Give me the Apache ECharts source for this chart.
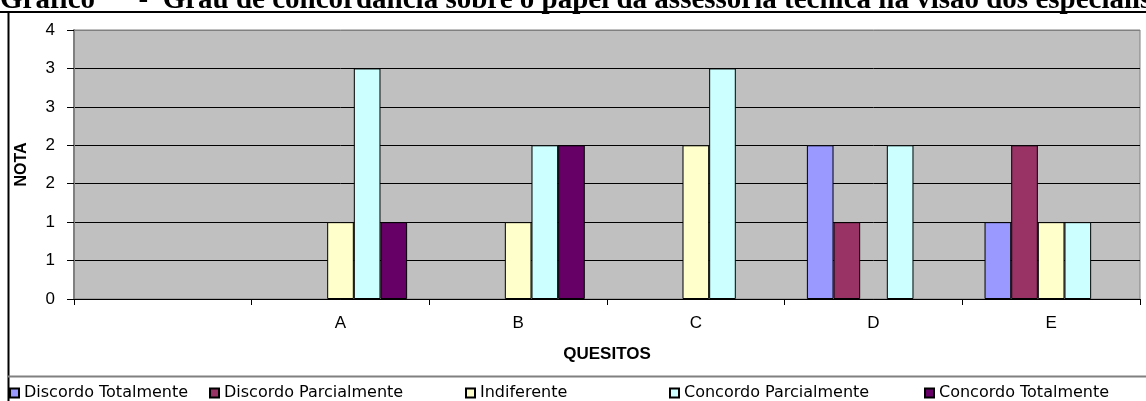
<!DOCTYPE html>
<html>
<head>
<meta charset="utf-8">
<script src="https://cdn.jsdelivr.net/npm/echarts@6/dist/echarts.min.js"></script>
<style>
html,body{margin:0;padding:0;background:#fff;}
#c{width:1146px;height:401px;}
</style>
</head>
<body>
<div id="c"></div>
<script>
const categories = ['', 'A', 'B', 'C', 'D', 'E'];
const seriesNames = ['Discordo Totalmente', 'Discordo Parcialmente', 'Indiferente', 'Concordo Parcialmente', 'Concordo Totalmente'];
const discordoTotalmente    = ['-', '-', '-', '-', 2, 1];
const discordoParcialmente  = ['-', '-', '-', '-', 1, 2];
const indiferente           = ['-', 1, 1, 2, '-', 1];
const concordoParcialmente  = ['-', 3, 2, 3, 2, 1];
const concordoTotalmente    = ['-', 1, 2, '-', '-', '-'];
const colors = ['#9999FF', '#993366', '#FFFFCC', '#CCFFFF', '#660066'];
const titleText = 'Gráfico      -  Grau de concordância sobre o papel da assessoria técnica na visão dos especialistas';

const values = [discordoTotalmente, discordoParcialmente, indiferente, concordoParcialmente, concordoTotalmente];
const legendLefts = [4, 204, 460, 664, 919];

const chart = echarts.init(document.getElementById('c'), null, {renderer: 'canvas'});
const font = '"Liberation Sans", Arial, sans-serif';
const legendFont = '"DejaVu Sans", "Liberation Sans", sans-serif';

const option = {
  animation: false,
  backgroundColor: '#fff',
  textStyle: {fontFamily: font},
  grid: {left: 74, right: 6, top: 30, bottom: 102, show: true, backgroundColor: '#C0C0C0', borderColor: '#808080', borderWidth: 1},
  legend: seriesNames.map((n, i) => ({
    data: [n], left: legendLefts[i], top: 380, itemWidth: 9, itemHeight: 9, itemGap: 0,
    icon: 'rect', textStyle: {fontSize: 16, color: '#000', fontFamily: legendFont},
    selectedMode: false
  })),
  xAxis: {
    type: 'category', data: categories,
    name: 'QUESITOS', nameLocation: 'middle', nameGap: 47,
    nameTextStyle: {fontWeight: 'bold', fontSize: 17, color: '#000', fontFamily: font},
    axisLine: {lineStyle: {color: '#000', width: 1}},
    axisTick: {show: true, length: 6, lineStyle: {color: '#000'}},
    axisLabel: {color: '#000', fontSize: 17, margin: 16, fontFamily: font}
  },
  yAxis: {
    type: 'value', min: 0, max: 3.5, interval: 0.5,
    name: 'NOTA', nameLocation: 'middle', nameGap: 44,
    nameTextStyle: {fontWeight: 'bold', fontSize: 16, color: '#000', fontFamily: font},
    axisLine: {show: true, lineStyle: {color: '#808080', width: 2}},
    axisTick: {show: true, length: 7, lineStyle: {color: '#000'}},
    axisLabel: {color: '#000', fontSize: 17, margin: 19, fontFamily: font, formatter: v => String(Math.round(v))},
    splitLine: {show: true, lineStyle: {color: ['#000','#000','#000','#000','#000','#000','#000','#808080'], width: 1}}
  },
  series: seriesNames.map((n, i) => ({
    name: n, type: 'bar', data: values[i],
    barGap: '0%', barCategoryGap: '25%',
    itemStyle: {color: colors[i], borderColor: '#000', borderWidth: 1}
  })),
  graphic: [
    {type: 'text', x: 0, y: 15, z: 10,
      style: {text: titleText, font: 'bold 29px "Liberation Serif", "Times New Roman", serif', fill: '#000', verticalAlign: 'bottom'}},
    {type: 'rect', shape: {x: 0, y: 12, width: 1146, height: 389}, style: {fill: '#fff'}, z: -10},
    {type: 'line', shape: {x1: 0, y1: 12, x2: 1146, y2: 12}, style: {stroke: '#000', lineWidth: 2}, z: 10},
    {type: 'line', shape: {x1: 8.5, y1: 12, x2: 8.5, y2: 401}, style: {stroke: '#000', lineWidth: 2}, z: 10},
    {type: 'line', shape: {x1: 8, y1: 376.5, x2: 1146, y2: 376.5}, style: {stroke: '#808080', lineWidth: 2}, z: 10}
  ]
};
chart.setOption(option);
</script>
</body>
</html>
